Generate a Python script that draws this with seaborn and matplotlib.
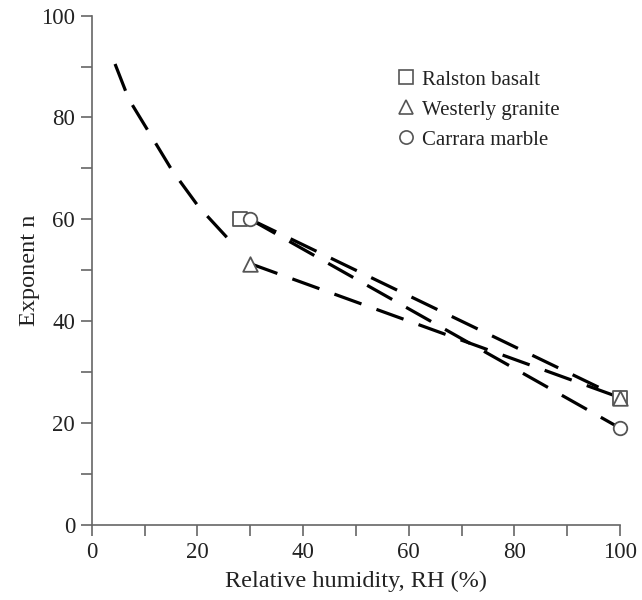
import matplotlib
matplotlib.use("Agg")
import matplotlib.pyplot as plt
import seaborn as sns
from matplotlib.lines import Line2D

sns.set_style("ticks")
plt.rcParams['font.family'] = ['Liberation Serif', 'DejaVu Serif']

# Data
curve_x = [4.4, 7.0, 10.7, 15.2, 20.2, 25.8, 27.5]
curve_y = [90.5, 83.6, 77.3, 69.6, 62.5, 56.2, 54.8]

basalt_x = [28.0, 100.0]
basalt_y = [60.0, 25.0]
granite_x = [30.0, 100.0]
granite_y = [51.3, 25.0]
marble_x = [30.0, 100.0]
marble_y = [60.0, 19.0]

labels = ["Ralston basalt", "Westerly granite", "Carrara marble"]
xticks = [0, 20, 40, 60, 80, 100]
yticks = [0, 20, 40, 60, 80, 100]

fig = plt.figure(figsize=(6.42, 6.00), dpi=100)
ax = fig.add_axes([0.143, 0.125, 0.823, 0.849])

lw = 2.3
dash = (9, 5)

def dashed(x, y):
    sns.lineplot(x=x, y=y, ax=ax, color='black', lw=lw, sort=False, zorder=2)
    ax.lines[-1].set_dashes(dash)
    ax.lines[-1].set_clip_on(False)

dashed(curve_x, curve_y)
dashed([marble_x[0], basalt_x[1]], [marble_y[0], basalt_y[1]])
dashed(granite_x, granite_y)
dashed(marble_x, marble_y)

edge = '#555555'
for xs, ys, mk, sz, z in [(basalt_x, basalt_y, 's', 95, 3),
                          (granite_x, granite_y, '^', 110, 3),
                          (marble_x, marble_y, 'o', 95, 4)]:
    sns.scatterplot(x=xs, y=ys, ax=ax, marker=mk, s=sz, facecolor='white',
                    edgecolor=edge, linewidth=1.3, zorder=z)
    ax.collections[-1].set_clip_on(False)

ax.set_xlim(0, 100)
ax.set_ylim(0, 100)
ax.set_xticks(xticks)
ax.set_yticks(yticks)
ax.set_xticks(range(10, 100, 20), minor=True)
ax.set_yticks(range(10, 100, 20), minor=True)
axcol = '#666666'
for side in ['left', 'bottom']:
    ax.spines[side].set_color(axcol)
    ax.spines[side].set_linewidth(1.2)
for side in ['top', 'right']:
    ax.spines[side].set_visible(False)
ax.tick_params(which='both', direction='out', length=8, width=1.2, color=axcol,
               labelsize=16.5, labelcolor='#222222', pad=4)

ax.set_xlabel("Relative humidity, RH (%)", fontsize=17.5, color='#222222', labelpad=6)
ax.set_ylabel("Exponent n", fontsize=17.5, color='#222222', labelpad=1)

handles = [
    Line2D([], [], marker='s', ls='none', markersize=9.5, markerfacecolor='white', markeredgecolor=edge, markeredgewidth=1.2),
    Line2D([], [], marker='^', ls='none', markersize=9.5, markerfacecolor='white', markeredgecolor=edge, markeredgewidth=1.2),
    Line2D([], [], marker='o', ls='none', markersize=9.5, markerfacecolor='white', markeredgecolor=edge, markeredgewidth=1.2),
]
leg = ax.legend(handles, labels, loc='upper left', bbox_to_anchor=(0.543, 0.93), frameon=False,
                fontsize=15, handlelength=0.8, handletextpad=0.4, labelspacing=0.5)
for t in leg.get_texts():
    t.set_color('#222222')

fig.savefig("out.png", dpi=100)
